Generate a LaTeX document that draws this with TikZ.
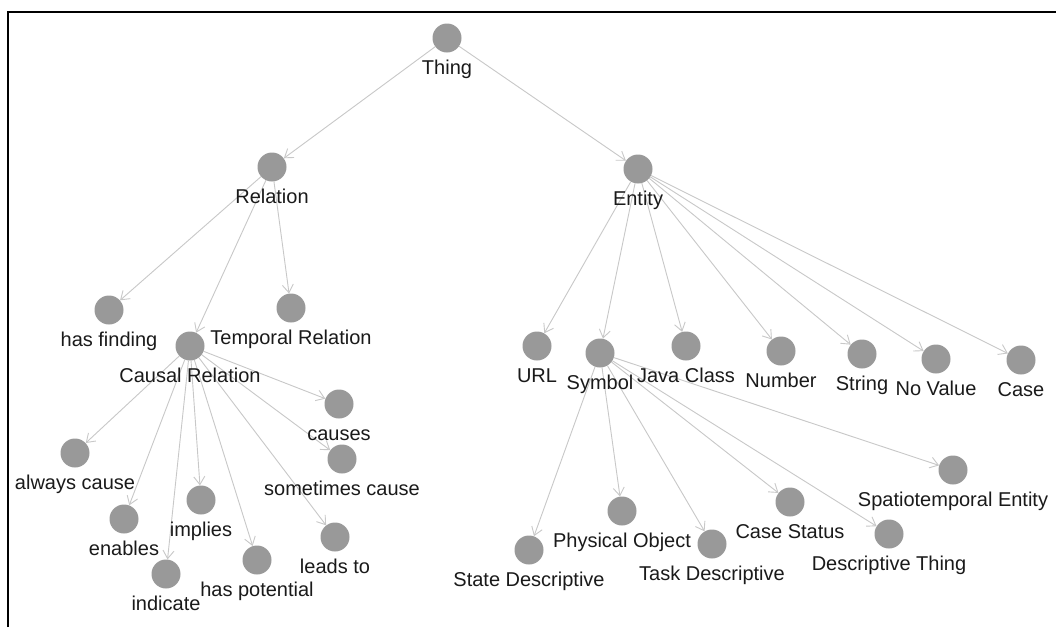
\documentclass[tikz,border=0pt]{standalone}
\usepackage{fontspec}
\setmainfont{Liberation Sans}
\usetikzlibrary{arrows.meta}
\definecolor{dotgrey}{HTML}{999999}
\definecolor{edgegrey}{HTML}{C8C8C8}
\definecolor{txtcol}{HTML}{1A1A1A}
\pgfdeclarelayer{links}
\pgfsetlayers{links,main}
% a class: grey circle with its name set below it
\newcommand\ontoclass[4]{%
  \node[dot] (#1) at (#2,#3) {};
  \node[lbl] (#1-l) at ([yshift=-36pt]#1.center) {#4};}
\begin{document}
\begin{tikzpicture}[x=1pt,y=-1pt,
  dot/.style={circle,fill=dotgrey,draw=none,minimum size=29pt,inner sep=0pt},
  lbl/.style={font=\fontsize{20}{22}\selectfont,text=txtcol,inner sep=0pt,anchor=base},
  isa/.style={draw=edgegrey,line width=0.9pt,-{Straight Barb[length=8pt,width=11pt]}}
]
\useasboundingbox (0,0) rectangle (1056,627);

% classes
\ontoclass{thing}{447}{38}{Thing}
\ontoclass{relation}{272}{167}{Relation}
\ontoclass{entity}{638}{169}{Entity}
\ontoclass{hasfind}{109}{310}{has finding}
\ontoclass{temporal}{291}{308}{Temporal Relation}
\ontoclass{causal}{190}{346}{Causal Relation}
\ontoclass{always}{75}{453}{always cause}
\ontoclass{causes}{339}{404}{causes}
\ontoclass{sometimes}{342}{459}{sometimes cause}
\ontoclass{enables}{124}{519}{enables}
\ontoclass{implies}{201}{500}{implies}
\ontoclass{indicate}{166}{574}{indicate}
\ontoclass{haspot}{257}{560}{has potential}
\ontoclass{leads}{335}{537}{leads to}
\ontoclass{url}{537}{346}{URL}
\ontoclass{symbol}{600}{353}{Symbol}
\ontoclass{java}{686}{346}{Java Class}
\ontoclass{number}{781}{351}{Number}
\ontoclass{string}{862}{354}{String}
\ontoclass{novalue}{936}{359}{No Value}
\ontoclass{case}{1021}{360}{Case}
\ontoclass{spatio}{953}{470}{Spatiotemporal Entity}
\ontoclass{physobj}{622}{511}{Physical Object}
\ontoclass{statedesc}{529}{550}{State Descriptive}
\ontoclass{taskdesc}{712}{544}{Task Descriptive}
\ontoclass{casestat}{790}{502}{Case Status}
\ontoclass{descthing}{889}{534}{Descriptive Thing}

% canvas, frame and subclass links, kept under the circles and names
\begin{pgfonlayer}{links}
\fill[white] (0,0) rectangle (1056,627);
\draw[line width=2pt] (8,627) -- (8,12) -- (1056,12);
\draw[isa] (thing) -- (relation);
\draw[isa] (thing) -- (entity);
\draw[isa] (relation) -- (hasfind);
\draw[isa] (relation) -- (causal);
\draw[isa] (relation) -- (temporal);
\draw[isa] (causal) -- (always);
\draw[isa] (causal) -- (enables);
\draw[isa] (causal) -- (indicate);
\draw[isa] (causal) -- (implies);
\draw[isa] (causal) -- (haspot);
\draw[isa] (causal) -- (leads);
\draw[isa] (causal) -- (sometimes);
\draw[isa] (causal) -- (causes);
\draw[isa] (entity) -- (url);
\draw[isa] (entity) -- (symbol);
\draw[isa] (entity) -- (java);
\draw[isa] (entity) -- (number);
\draw[isa] (entity) -- (string);
\draw[isa] (entity) -- (novalue);
\draw[isa] (entity) -- (case);
\draw[isa] (symbol) -- (statedesc);
\draw[isa] (symbol) -- (physobj);
\draw[isa] (symbol) -- (taskdesc);
\draw[isa] (symbol) -- (casestat);
\draw[isa] (symbol) -- (descthing);
\draw[isa] (symbol) -- (spatio);
\end{pgfonlayer}
\end{tikzpicture}
\end{document}
